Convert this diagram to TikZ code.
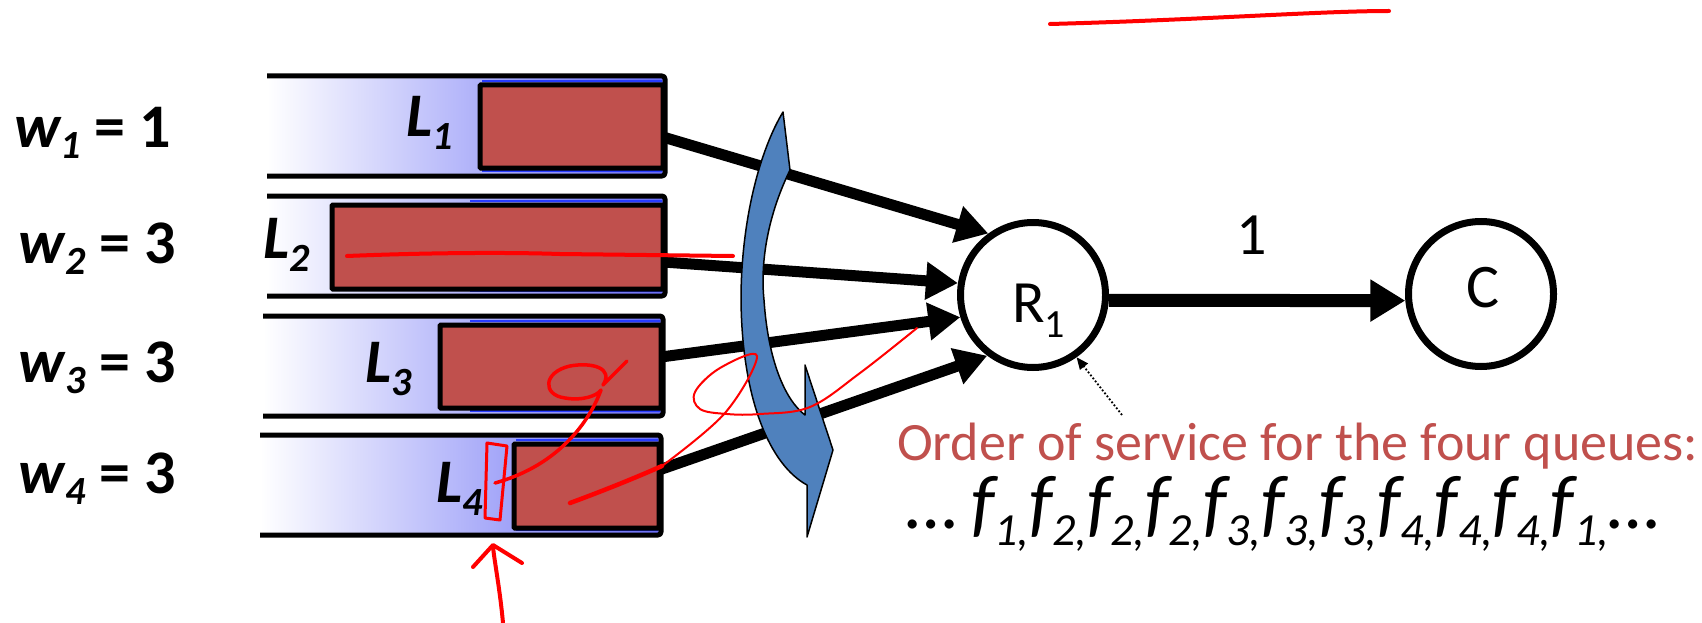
\documentclass[tikz,border=0pt]{standalone}
\usepackage{fontspec}
\setmainfont{Carlito}
\usetikzlibrary{arrows.meta}
\definecolor{boxred}{HTML}{C0504D}
\definecolor{txtred}{HTML}{C0504D}
\definecolor{arrblue}{HTML}{4F81BD}
\definecolor{qblue}{RGB}{104,108,244}
\definecolor{thinblue}{RGB}{40,60,255}
\definecolor{penred}{RGB}{255,0,0}
\newcommand\fs[1]{\fontsize{#1}{#1}\selectfont}
\newcommand\lowsub[3]{\raisebox{-#1pt}{\fs{#2}#3}}
\newcommand\fsub[1]{f\lowsub{17}{46}{#1,}}
\begin{document}
\begin{tikzpicture}[x=1pt,y=-1pt,
  qline/.style={line width=5pt, line join=round, rounded corners=3pt},
  qfill/.style={left color=white, right color=qblue},
  bluerule/.style={draw=thinblue, line width=1.3pt},
  pkt/.style={draw, fill=boxred, line width=5pt, rectangle, inner sep=0pt, outer sep=0pt, rounded corners=1pt},
  router/.style={draw, circle, line width=7pt, minimum size=145pt, inner sep=0pt, fill=white},
  bigarrow/.style={line width=11pt, -{Triangle[length=32pt,width=36pt]}},
  outarrow/.style={line width=13pt, -{Triangle[length=35pt,width=40pt]}},
  txt/.style={inner sep=0pt, outer sep=0pt},
  pen/.style={draw=penred, line cap=round, line join=round}
]
\useasboundingbox (0,0) rectangle (1702,623);

% ---------- queues ----------
\fill[qfill] (267,76) rectangle (665,176);
\fill[qfill] (267,196) rectangle (665,296);
\fill[qfill] (263,316) rectangle (663,416);
\fill[qfill] (260,435) rectangle (661,535);

\draw[bluerule] (482,81) -- (662,81) (482,171) -- (662,171);
\draw[bluerule] (470,201) -- (662,201) (470,291) -- (662,291);
\draw[bluerule] (470,321) -- (660,321) (470,411) -- (660,411);
\draw[bluerule] (516,440) -- (658,440) (516,530) -- (658,530);

\node[pkt, minimum width=183pt, minimum height=83pt] (b1) at (571.5,126.5) {};
\node[pkt, minimum width=331pt, minimum height=84pt] (b2) at (497.5,247) {};
\node[pkt, minimum width=221pt, minimum height=83pt] (b3) at (550.5,366.5) {};
\node[pkt, minimum width=145pt, minimum height=84pt] (b4) at (586.5,486) {};

\draw[qline] (267,76) -- (665,76) -- (665,176) -- (267,176);
\draw[qline] (267,196) -- (665,196) -- (665,296) -- (267,296);
\draw[qline] (263,316) -- (663,316) -- (663,416) -- (263,416);
\draw[qline] (260,435) -- (661,435) -- (661,535) -- (260,535);

% queue labels
\node[txt, anchor=base east] (L1) at (453,137) {\fs{62}\bfseries\itshape L\lowsub{13}{40}{1}};
\node[txt, anchor=base east] (L2) at (310,258) {\fs{62}\bfseries\itshape L\lowsub{13}{40}{2}};
\node[txt, anchor=base east] (L3) at (412,382) {\fs{62}\bfseries\itshape L\lowsub{13}{40}{3}};
\node[txt, anchor=base east] (L4) at (483,502) {\fs{62}\bfseries\itshape L\lowsub{13}{40}{4}};

% weights
\node[txt, anchor=base west] (w1) at (14,147) {\fs{62}\bfseries{\itshape w\lowsub{11}{40}{1}} = 1};
\node[txt, anchor=base west] (w2) at (19,263) {\fs{62}\bfseries{\itshape w\lowsub{11}{40}{2}} = 3};
\node[txt, anchor=base west] (w3) at (19,382) {\fs{62}\bfseries{\itshape w\lowsub{11}{40}{3}} = 3};
\node[txt, anchor=base west] (w4) at (19,493) {\fs{62}\bfseries{\itshape w\lowsub{11}{40}{4}} = 3};

% routers
\node[router] (R1) at (1033,295) {};
\node[router] (C) at (1481,294) {};
\node[txt, anchor=base west] (R1t) at (1012,322) {\fs{60}R\lowsub{15}{40}{1}};
\node[txt, anchor=base] (Ct) at (1483,307) {\fs{62}C};

% arrows into R1
\draw[bigarrow] ([yshift=-10.5pt]b1.east) -- (R1.126);
\draw[bigarrow] ([yshift=-15pt]b2.east) -- (R1.171);
\draw[bigarrow] ([yshift=9.5pt]b3.east) -- (R1.197);
\draw[bigarrow] ([yshift=16pt]b4.east) -- (R1.233.5);

% R1 -> C
\draw[outarrow] (R1.-4.9) -- (C.185);
\node[txt, anchor=base] (one) at (1252,254) {\fs{60}1};

% blue curved arrow (drawn over the arrows)
\filldraw[fill=arrblue, draw=black, line width=1.5pt, line join=round]
  (783,112) -- (790,170)
  .. controls (768,215) and (760,262) .. (764,300)
  .. controls (768,360) and (785,400) .. (805,415)
  -- (805,365) -- (833,450) -- (807,537) -- (807,485)
  .. controls (770,465) and (742,400) .. (741,300)
  .. controls (741,220) and (760,150) .. cycle;

% dotted pointer and caption
\coordinate (ds) at (1122,415);
\draw[line width=1.8pt, dotted, -{Triangle[length=12pt,width=10pt]}] (ds) -- (R1.-55);
\node[txt, anchor=base west, text=txtred] (order) at (897,460) {\fs{54}Order of service for the four queues:};
\node[txt, anchor=base west] (seq) at (906,528) {\fs{76}\itshape …\,\fsub{1}\fsub{2}\fsub{2}\fsub{2}\fsub{3}\fsub{3}\fsub{3}\fsub{4}\fsub{4}\fsub{4}\fsub{1}…};

% ---------- red pen annotations ----------
\draw[pen, line width=4pt] (1050,24) .. controls (1200,20) and (1320,11) .. (1389,11);
\draw[pen, line width=4pt] (347,256) .. controls (420,253) and (500,252) .. (560,254) -- (733,256);
\draw[pen, line width=3.5pt] (627,361) -- (603,385)
  .. controls (614,368) and (592,362) .. (570,366)
  .. controls (543,372) and (542,395) .. (565,398)
  .. controls (582,401) and (597,396) .. (601,390)
  .. controls (590,420) and (560,465) .. (495,483);
\draw[pen, line width=3pt] (487,443) -- (507,446) -- (500,520) -- (485,518) -- cycle;
\draw[pen, line width=4.5pt] (570,503) .. controls (600,492) and (635,478) .. (662,466);
\draw[pen, line width=2pt] plot[smooth, tension=0.6] coordinates {(662,466) (725,413) (757,356) (720,368) (695,392) (700,409) (727,414) (760,414) (810,407) (860,373) (917,328)};
\draw[pen, line width=4pt] (503,623) .. controls (500,590) and (495,565) .. (493,547);
\draw[pen, line width=4pt] (473,567) -- (493,545) -- (522,563);
\end{tikzpicture}
\end{document}
